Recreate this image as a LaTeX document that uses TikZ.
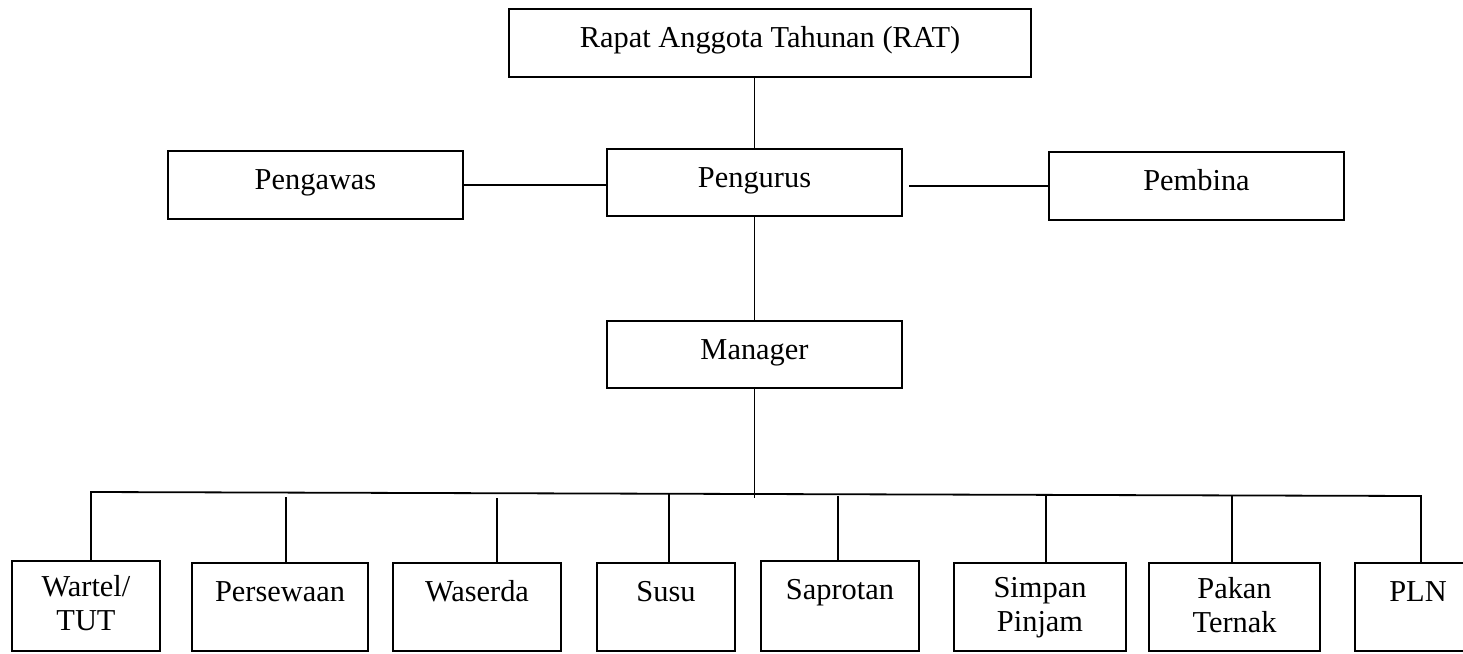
\documentclass[tikz,border=0pt]{standalone}
\usepackage{fontspec}
\setmainfont{Liberation Serif}
\begin{document}
\begin{tikzpicture}[x=1pt,y=-1pt,
  box/.style={draw, line width=1.8pt, inner sep=0pt},
  conn/.style={line width=1.8pt},
  lbl/.style={anchor=north, inner sep=0pt, align=center,
    font=\fontsize{30.4}{34}\selectfont, execute at begin node=\strut}]
\useasboundingbox (0,0) rectangle (1463,653);
\fill[white] (0,0) rectangle (1463,653);
\clip (0,0) rectangle (1463,653);

% upper boxes
\node[box, minimum width=522pt, minimum height=68pt] (rat) at (770,43) {};
\node[box, minimum width=295pt, minimum height=68pt] (pengawas) at (315.5,185) {};
\node[box, minimum width=295pt, minimum height=67pt] (pengurus) at (754.5,182.5) {};
\node[box, minimum width=295pt, minimum height=68pt] (pembina) at (1196.5,186) {};
\node[box, minimum width=295pt, minimum height=67pt] (manager) at (754.5,354.5) {};

\node[lbl] (ratT) at (770,23.2) {Rapat Anggota Tahunan (RAT)};
\node[lbl] (pengawasT) at (315.5,165.2) {Pengawas};
\node[lbl] (pengurusT) at (754.5,163.2) {Pengurus};
\node[lbl] (pembinaT) at (1196.5,166.2) {Pembina};
\node[lbl] (managerT) at (754.5,335.2) {Manager};

% lower boxes
\node[box, minimum width=148pt, minimum height=90pt] (wartel) at (86,606) {};
\node[box, minimum width=176pt, minimum height=88pt] (persewaan) at (280,607) {};
\node[box, minimum width=168pt, minimum height=88pt] (waserda) at (477,607) {};
\node[box, minimum width=138pt, minimum height=88pt] (susu) at (666,607) {};
\node[box, minimum width=158pt, minimum height=90pt] (saprotan) at (840,606) {};
\node[box, minimum width=172pt, minimum height=88pt] (simpan) at (1040,607) {};
\node[box, minimum width=171pt, minimum height=88pt] (pakan) at (1234.5,607) {};
\node[box, minimum width=126pt, minimum height=88pt] (pln) at (1418,607) {};

\node[lbl] (wartelT) at (86,575.2) {Wartel/\\TUT};
\node[lbl] (persewaanT) at (280,577.2) {Persewaan};
\node[lbl] (waserdaT) at (477,577.2) {Waserda};
\node[lbl] (susuT) at (666,577.2) {Susu};
\node[lbl] (saprotanT) at (840,575.2) {Saprotan};
\node[lbl] (simpanT) at (1040,577.2) {Simpan\\Pinjam};
\node[lbl] (pakanT) at (1234.5,577.2) {Pakan\\Ternak};
\node[lbl] (plnT) at (1418,577.2) {PLN};

% connectors of the upper part
\draw[conn] (pengurus.north) -- (pengurus.north |- rat.south);
\draw[conn] (pengawas.east) -- (pengawas.east -| pengurus.west);
\draw[conn] (pembina.west) -- ([xshift=6pt]pembina.west -| pengurus.east);
\draw[conn] (pengurus.south) -- (manager.north);

% bus
\coordinate (mbus) at (754.5,498);
\coordinate (bL) at (91,492);
\coordinate (bR) at (1421,496);
\coordinate (dPer) at (286,497);
\coordinate (dWas) at (497,498);
\coordinate (dSus) at (669,493);
\coordinate (dSap) at (838,496);
\coordinate (dSim) at (1046,496);
\coordinate (dPak) at (1232,496);

\draw[conn] (manager.south) -- (mbus);
\draw[conn] (bL |- wartel.north) -- (bL) -- (bR) -- (bR |- pln.north);
\draw[conn] (dPer) -- (dPer |- persewaan.north);
\draw[conn] (dWas) -- (dWas |- waserda.north);
\draw[conn] (dSus) -- (dSus |- susu.north);
\draw[conn] (dSap) -- (dSap |- saprotan.north);
\draw[conn] (dSim) -- (dSim |- simpan.north);
\draw[conn] (dPak) -- (dPak |- pakan.north);
\end{tikzpicture}
\end{document}
